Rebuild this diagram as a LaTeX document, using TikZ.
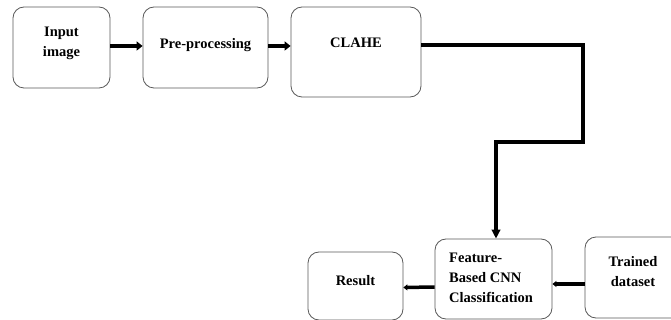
\documentclass[tikz,border=0pt]{standalone}
\usepackage{fontspec}
\setmainfont{Liberation Serif}
\usetikzlibrary{arrows.meta}
\begin{document}
\begin{tikzpicture}[x=1pt,y=-1pt,
  box/.style={draw=black!65, line width=0.8pt, rounded corners=11pt, fill=white, inner sep=0pt},
  txt/.style={font=\bfseries\fontsize{14.5}{20}\selectfont, inner sep=0pt, align=center},
  fat/.style={line width=4pt, -{Triangle[length=6pt,width=9pt]}},
  flow/.style={line width=3.2pt, -{Triangle[length=9pt,width=8.5pt]}},
  slim/.style={line width=3.5pt, -{Triangle[length=4pt,width=6pt]}}]
\clip (0,0) rectangle (671,320);
\fill[white] (0,0) rectangle (671,320);

% upper row
\node[box, minimum width=97pt, minimum height=81pt] (inp) at (61.5,47.5) {};
\node[txt] (inpT) at (61.5,43) {Input\\image};
\node[box, minimum width=125pt, minimum height=81pt] (pre) at (205.5,47.5) {};
\node[txt] (preT) at (205.5,45) {Pre-processing};
\node[box, minimum width=130pt, minimum height=90pt] (clahe) at (356,52) {};
\node[txt] (claheT) at (356,43) {CLAHE};

% lower row
\node[box, minimum width=95pt, minimum height=68pt] (res) at (355.5,286) {};
\node[txt] (resT) at (355.5,281) {Result};
\node[box, minimum width=117pt, minimum height=80pt] (feat) at (493.5,279) {};
\node[txt, align=left, anchor=west] (featT) at (449,278) {Feature-\\Based CNN\\Classification};
\node[box, minimum width=100pt, minimum height=81pt] (train) at (635,277.5) {};
\node[txt] (trainT) at (633,272) {Trained\\dataset};

\coordinate (c1) at (583,142);

% connectors
\draw[fat] ([yshift=1.5pt]inp.east) -- ([yshift=1.5pt]pre.west);
\draw[fat] ([yshift=1.5pt]pre.east) -- ([yshift=6pt]clahe.west);
\draw[flow] ([yshift=7pt]clahe.east) -| (c1) -| ([xshift=2.5pt]feat.north);
\draw[slim] ([yshift=-6.5pt]train.west) -- ([yshift=-5pt]feat.east);
\draw[slim] ([yshift=-8pt]feat.west) -- ([yshift=-1.5pt]res.east);
\end{tikzpicture}
\end{document}
